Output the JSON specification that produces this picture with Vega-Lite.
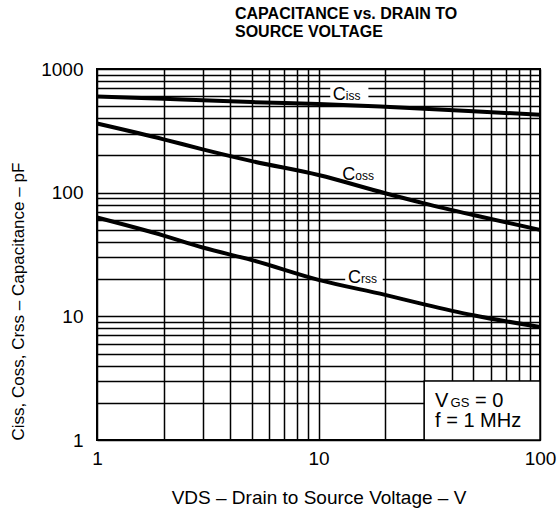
{
  "$schema": "https://vega.github.io/schema/vega-lite/v6.json",
  "width": 443,
  "height": 371,
  "autosize": {"type": "none"},
  "padding": {"left": 97, "top": 69, "right": 18, "bottom": 70},
  "background": "white",
  "config": {
    "font": "Liberation Sans",
    "view": {"stroke": "black", "strokeWidth": 2},
    "axis": {
      "grid": true,
      "gridColor": "black",
      "gridOpacity": 1,
      "gridWidth": 1.5,
      "ticks": false,
      "domain": false,
      "labelColor": "black",
      "labelFontSize": 19,
      "labelFont": "Liberation Sans",
      "labelOverlap": false,
      "labelBound": false,
      "labelFlush": false,
      "titleColor": "black",
      "titleFont": "Liberation Sans",
      "titleFontWeight": "normal",
      "labelExpr": "indexof([1,10,100,1000], datum.value) >= 0 ? format(datum.value, 'd') : ''"
    }
  },
  "title": {
    "text": ["CAPACITANCE vs. DRAIN TO", "SOURCE VOLTAGE"],
    "anchor": "start",
    "frame": "group",
    "dx": 138,
    "fontSize": 16,
    "fontWeight": "bold",
    "font": "Liberation Sans",
    "lineHeight": 18,
    "offset": 20,
    "color": "black"
  },
  "datasets": {
    "curves": [
      {"V": 1, "C": 600, "s": "Ciss"},
      {"V": 2, "C": 575, "s": "Ciss"},
      {"V": 3, "C": 560, "s": "Ciss"},
      {"V": 5, "C": 540, "s": "Ciss"},
      {"V": 10, "C": 522, "s": "Ciss"},
      {"V": 20, "C": 495, "s": "Ciss"},
      {"V": 30, "C": 478, "s": "Ciss"},
      {"V": 50, "C": 456, "s": "Ciss"},
      {"V": 100, "C": 426, "s": "Ciss"},
      {"V": 1, "C": 362, "s": "Coss"},
      {"V": 2, "C": 270, "s": "Coss"},
      {"V": 3, "C": 224, "s": "Coss"},
      {"V": 5, "C": 180, "s": "Coss"},
      {"V": 10, "C": 139, "s": "Coss"},
      {"V": 20, "C": 99, "s": "Coss"},
      {"V": 30, "C": 82, "s": "Coss"},
      {"V": 50, "C": 66, "s": "Coss"},
      {"V": 100, "C": 50, "s": "Coss"},
      {"V": 1, "C": 63, "s": "Crss"},
      {"V": 2, "C": 45, "s": "Crss"},
      {"V": 3, "C": 36, "s": "Crss"},
      {"V": 5, "C": 28.5, "s": "Crss"},
      {"V": 10, "C": 19.7, "s": "Crss"},
      {"V": 20, "C": 14.9, "s": "Crss"},
      {"V": 30, "C": 12.5, "s": "Crss"},
      {"V": 50, "C": 10.2, "s": "Crss"},
      {"V": 100, "C": 8.2, "s": "Crss"}
    ],
    "labelBg": [
      {"V": 11.3, "V2": 16.8, "C": 560, "C2": 730},
      {"V": 13.2, "V2": 19.5, "C": 18.5, "C2": 25.5}
    ],
    "box": [
      {"V": 30, "V2": 100, "C": 1, "C2": 3}
    ],
    "labels": [
      {"V": 11.6, "C": 561, "t": "C", "sub": "iss"},
      {"V": 12.8, "C": 126.5, "t": "C", "sub": "oss"},
      {"V": 13.6, "C": 18.6, "t": "C", "sub": "rss"}
    ],
    "note1": [
      {"V": 33.6, "C": 1.85, "t": "V", "sub": "GS", "rest": "= 0"}
    ],
    "note2": [
      {"V": 33.6, "C": 1.27, "t": "f = 1 MHz"}
    ]
  },
  "encoding": {
    "x": {
      "field": "V",
      "type": "quantitative",
      "scale": {"type": "log", "domain": [1, 100], "nice": false},
      "axis": {
        "values": [1, 2, 3, 4, 5, 6, 7, 8, 9, 10, 20, 30, 40, 50, 60, 70, 80, 90, 100],
        "labelPadding": 9,
        "title": "VDS – Drain to Source Voltage – V",
        "titleFontSize": 19,
        "titlePadding": 20
      }
    },
    "y": {
      "field": "C",
      "type": "quantitative",
      "scale": {"type": "log", "domain": [1, 1000], "nice": false},
      "axis": {
        "values": [1, 2, 3, 4, 5, 6, 7, 8, 9, 10, 20, 30, 40, 50, 60, 70, 80, 90, 100, 200, 300, 400, 500, 600, 700, 800, 900, 1000],
        "labelPadding": 14,
        "title": "Ciss, Coss, Crss – Capacitance – pF",
        "titleFontSize": 17,
        "titleAnchor": "start",
        "titlePadding": 13
      }
    }
  },
  "layer": [
    {
      "data": {"name": "box"},
      "mark": {"type": "rect", "fill": "white", "stroke": "black", "strokeWidth": 1.5},
      "encoding": {"x2": {"field": "V2"}, "y2": {"field": "C2"}}
    },
    {
      "data": {"name": "labelBg"},
      "mark": {"type": "rect", "fill": "white"},
      "encoding": {"x2": {"field": "V2"}, "y2": {"field": "C2"}}
    },
    {
      "data": {"name": "curves"},
      "mark": {"type": "line", "color": "black", "strokeWidth": 4, "interpolate": "monotone"},
      "encoding": {"detail": {"field": "s"}}
    },
    {
      "data": {"name": "labels"},
      "mark": {"type": "text", "align": "left", "baseline": "alphabetic", "fontSize": 18, "color": "black"},
      "encoding": {"text": {"field": "t"}}
    },
    {
      "data": {"name": "labels"},
      "mark": {"type": "text", "align": "left", "baseline": "alphabetic", "fontSize": 12, "dx": 13, "color": "black"},
      "encoding": {"text": {"field": "sub"}}
    },
    {
      "data": {"name": "note1"},
      "mark": {"type": "text", "align": "left", "baseline": "alphabetic", "fontSize": 20, "color": "black"},
      "encoding": {"text": {"field": "t"}}
    },
    {
      "data": {"name": "note1"},
      "mark": {"type": "text", "align": "left", "baseline": "alphabetic", "fontSize": 13, "dx": 15.5, "color": "black"},
      "encoding": {"text": {"field": "sub"}}
    },
    {
      "data": {"name": "note1"},
      "mark": {"type": "text", "align": "left", "baseline": "alphabetic", "fontSize": 20, "dx": 40, "color": "black"},
      "encoding": {"text": {"field": "rest"}}
    },
    {
      "data": {"name": "note2"},
      "mark": {"type": "text", "align": "left", "baseline": "alphabetic", "fontSize": 20, "color": "black"},
      "encoding": {"text": {"field": "t"}}
    }
  ]
}
